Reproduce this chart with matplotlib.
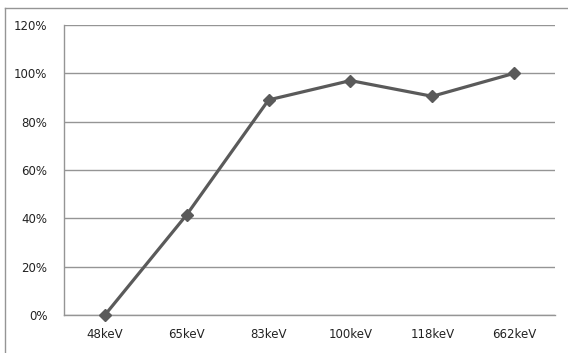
import matplotlib
matplotlib.use("Agg")
import matplotlib.pyplot as plt
from matplotlib.lines import Line2D
from matplotlib.ticker import PercentFormatter

# Relative response at each photon energy
energies = ["48keV", "65keV", "83keV", "100keV", "118keV", "662keV"]
response = [0.0, 41.5, 89.0, 97.0, 90.5, 100.0]
y_ticks = [0, 20, 40, 60, 80, 100, 120]

fig = plt.figure(figsize=(5.68, 3.53), dpi=100)
ax = fig.add_axes([64 / 568, 1 - 315 / 353, 491 / 568, 290 / 353])

x = range(len(energies))
ax.plot(x, response, color="#5a5a5a", linewidth=2.3, marker="D",
        markersize=6.5, markerfacecolor="#5a5a5a", markeredgecolor="#5a5a5a",
        zorder=3, clip_on=False)

ax.set_xlim(-0.5, len(energies) - 0.5)
ax.set_ylim(0, 120)
ax.set_xticks(list(x))
ax.set_xticklabels(energies)
ax.set_yticks(y_ticks)
ax.yaxis.set_major_formatter(PercentFormatter(decimals=0))

# horizontal gridlines only
ax.grid(axis="y", color="#959595", linewidth=1.0)
ax.set_axisbelow(True)
for side in ["top", "right"]:
    ax.spines[side].set_visible(False)
for side in ["left", "bottom"]:
    ax.spines[side].set_color("#959595")
    ax.spines[side].set_linewidth(1.0)

ax.tick_params(length=0, labelsize=8.5, colors="#222222")
ax.tick_params(axis="x", pad=9)
ax.tick_params(axis="y", pad=12)

# chart area border (top and left visible)
fig.add_artist(Line2D([5 / 568, 5 / 568], [0, 1 - 8 / 353],
                      transform=fig.transFigure, color="#959595", linewidth=1.0))
fig.add_artist(Line2D([5 / 568, 1], [1 - 8 / 353, 1 - 8 / 353],
                      transform=fig.transFigure, color="#959595", linewidth=1.0))

fig.savefig("out.png", dpi=100)
